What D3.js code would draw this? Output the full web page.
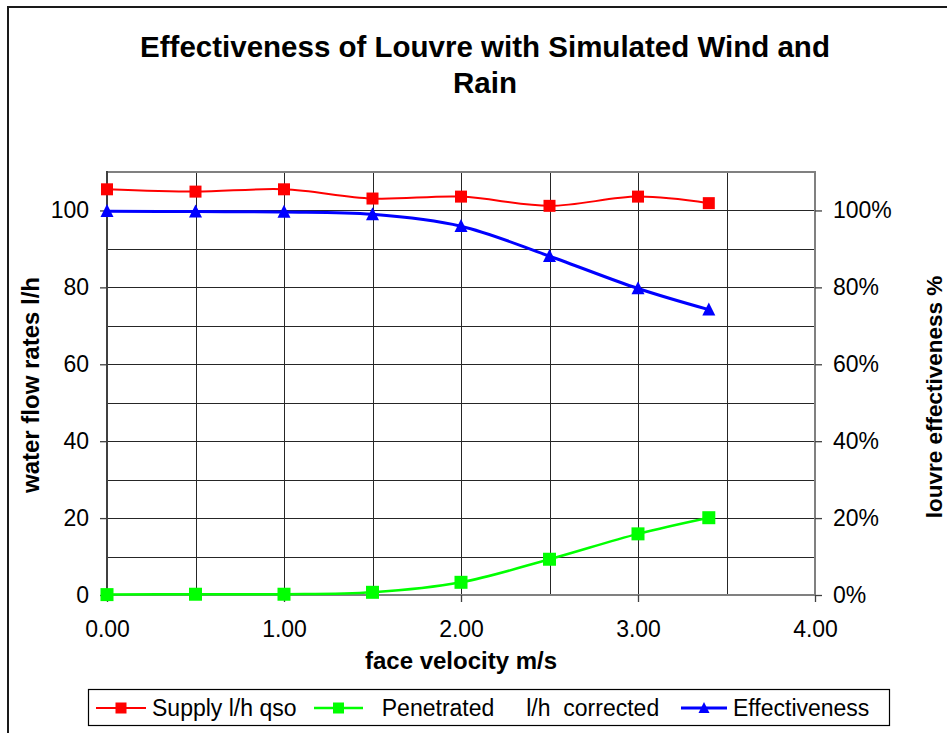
<!DOCTYPE html>
<html><head><meta charset="utf-8">
<script src="https://cdn.jsdelivr.net/npm/d3@7/dist/d3.min.js"></script>
<style>
html,body{margin:0;padding:0;background:#fff;}
svg{display:block;font-family:"Liberation Sans",Arial,sans-serif;}
</style></head>
<body>
<svg id="chart" width="947" height="733"></svg>
<script>
// ---- data ----
const velocity = [0.0, 0.5, 1.0, 1.5, 2.0, 2.5, 3.0, 3.4];
const supply = [105.5, 104.9, 105.5, 103.1, 103.6, 101.2, 103.6, 101.9];
const penetrated = [0.1, 0.2, 0.2, 0.7, 3.3, 9.3, 15.9, 20.1];
const effectiveness = [99.8, 99.7, 99.6, 99.0, 95.9, 88.1, 79.7, 74.2];
const leftTicks = [0, 20, 40, 60, 80, 100];
const rightTicks = [0, 20, 40, 60, 80, 100];
const xTicks = [0, 1, 2, 3, 4];
const titleLines = ["Effectiveness of Louvre with Simulated Wind and", "Rain"];
const seriesNames = ["Supply l/h qso", "  Penetrated     l/h  corrected", "Effectiveness"];

const svg = d3.select("#chart");
const W = 947, H = 733;
const L = 107, R = 815, T = 172, B = 595;

const x = d3.scaleLinear().domain([0, 4]).range([L, R]);
const yL = d3.scaleLinear().domain([0, 110]).range([B, T]);
const yR = d3.scaleLinear().domain([0, 110]).range([B, T]);

// outer chart border
svg.append("path").attr("d", `M8,${H} L8,7 L${W},7`)
  .attr("fill", "none").attr("stroke", "#1a1a1a").attr("stroke-width", 2);

// title
svg.append("text").attr("x", 485).attr("y", 57).attr("text-anchor", "middle")
  .attr("font-weight", "bold").attr("font-size", 29.5).text(titleLines[0]);
svg.append("text").attr("x", 485).attr("y", 93).attr("text-anchor", "middle")
  .attr("font-weight", "bold").attr("font-size", 29.5).text(titleLines[1]);

// gridlines
const g = svg.append("g");
g.selectAll("line.h").data(d3.range(10, 110, 10)).join("line")
  .attr("x1", L).attr("x2", R)
  .attr("y1", d => Math.round(yL(d)) + 0.5).attr("y2", d => Math.round(yL(d)) + 0.5)
  .attr("stroke", "#262626").attr("stroke-width", 1);
g.selectAll("line.v").data(d3.range(0.5, 4, 0.5)).join("line")
  .attr("y1", T).attr("y2", B)
  .attr("x1", d => Math.round(x(d)) + 0.5).attr("x2", d => Math.round(x(d)) + 0.5)
  .attr("stroke", "#262626").attr("stroke-width", 1);

// plot frame
svg.append("line").attr("x1", L).attr("x2", R + 1).attr("y1", T).attr("y2", T)
  .attr("stroke", "#808080").attr("stroke-width", 2);
svg.append("line").attr("x1", R).attr("x2", R).attr("y1", T).attr("y2", B)
  .attr("stroke", "#808080").attr("stroke-width", 2);
svg.append("line").attr("x1", L).attr("x2", R + 1).attr("y1", B).attr("y2", B)
  .attr("stroke", "#808080").attr("stroke-width", 2);
svg.append("line").attr("x1", L).attr("x2", L).attr("y1", T - 1).attr("y2", B + 1)
  .attr("stroke", "#404040").attr("stroke-width", 2);

// axes
const fs = 23;
const axL = d3.axisLeft(yL).tickValues(leftTicks).tickSize(7).tickPadding(11).tickFormat(d3.format("d"));
const gL = svg.append("g").attr("transform", `translate(${L},0)`).call(axL);
const axR = d3.axisRight(yR).tickValues(rightTicks).tickSize(7).tickPadding(11).tickFormat(d => d + "%");
const gR = svg.append("g").attr("transform", `translate(${R},0)`).call(axR);
const axB = d3.axisBottom(x).tickValues(xTicks).tickSize(7).tickPadding(14).tickFormat(d3.format(".2f"));
const gB = svg.append("g").attr("transform", `translate(0,${B})`).call(axB);
[gL, gR, gB].forEach(a => {
  a.select(".domain").remove();
  a.selectAll(".tick line").attr("stroke", "#404040").attr("stroke-width", 1.3);
  a.selectAll(".tick text").attr("font-size", fs).attr("fill", "#000")
    .attr("font-family", "'Liberation Sans',Arial,sans-serif");
});
gB.selectAll(".tick text").attr("dy", "0.9em");

// axis titles
svg.append("text").attr("x", 461).attr("y", 669).attr("text-anchor", "middle")
  .attr("font-weight", "bold").attr("font-size", 24).text("face velocity m/s");
svg.append("text").attr("transform", "translate(39,385) rotate(-90)").attr("text-anchor", "middle")
  .attr("font-weight", "bold").attr("font-size", 24).text("water flow rates l/h");
svg.append("text").attr("transform", "translate(942,397) rotate(-90)").attr("text-anchor", "middle")
  .attr("font-weight", "bold").attr("font-size", 22.5).text("louvre effectiveness %");

// series
const curve = d3.curveCatmullRom.alpha(0.5);
const lineL = d3.line().x((d, i) => x(velocity[i])).y(d => yL(d)).curve(curve);
const lineR = d3.line().x((d, i) => x(velocity[i])).y(d => yR(d)).curve(curve);

const series = [
  {vals: supply, color: "#ff0000", width: 2, line: lineL, y: yL, shape: "square", size: 12},
  {vals: penetrated, color: "#00ff00", width: 2.5, line: lineL, y: yL, shape: "square", size: 13},
  {vals: effectiveness, color: "#0000ff", width: 3, line: lineR, y: yR, shape: "triangle", size: 13}
];

function marker(sel, shape, size, color) {
  if (shape === "square") {
    sel.append("rect").attr("x", -size / 2).attr("y", -size / 2).attr("width", size).attr("height", size)
      .attr("fill", color);
  } else {
    const h = size;
    sel.append("path").attr("d", `M0,${-h * 0.55} L${size / 2},${h * 0.45} L${-size / 2},${h * 0.45} Z`)
      .attr("fill", color);
  }
}

series.forEach(s => {
  svg.append("path").datum(s.vals).attr("d", s.line)
    .attr("fill", "none").attr("stroke", s.color).attr("stroke-width", s.width);
  s.vals.forEach((v, i) => {
    const m = svg.append("g").attr("transform", `translate(${x(velocity[i])},${s.y(v)})`);
    marker(m, s.shape, s.size, s.color);
  });
});

// legend
svg.append("rect").attr("x", 88.5).attr("y", 689.5).attr("width", 801).attr("height", 36)
  .attr("fill", "#fff").attr("stroke", "#000").attr("stroke-width", 1.2);
const legX = [96, 314, 681];
const legW = [50, 49, 46];
series.forEach((s, i) => {
  const cy = 708;
  svg.append("line").attr("x1", legX[i]).attr("x2", legX[i] + legW[i]).attr("y1", cy).attr("y2", cy)
    .attr("stroke", s.color).attr("stroke-width", s.width);
  const m = svg.append("g").attr("transform", `translate(${legX[i] + legW[i] / 2},${cy})`);
  marker(m, s.shape, 11, s.color);
  svg.append("text").attr("x", legX[i] + legW[i] + 6).attr("y", 716)
    .attr("font-size", 23).attr("xml:space", "preserve").style("white-space", "pre")
    .text(seriesNames[i]);
});
</script>
</body></html>
